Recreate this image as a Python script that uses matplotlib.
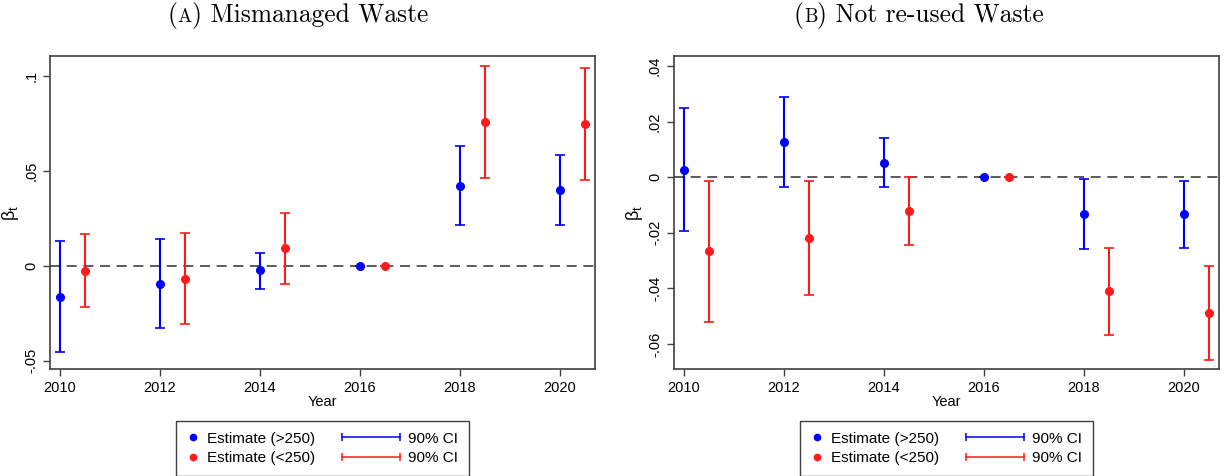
import numpy as np
import matplotlib
matplotlib.use("Agg")
import matplotlib.pyplot as plt
from matplotlib.lines import Line2D
from matplotlib.legend_handler import HandlerBase
from matplotlib.offsetbox import TextArea, HPacker, AnchoredOffsetbox

# years for the two groups (small group shifted by half a year)
years = np.array([2010, 2012, 2014, 2016, 2018, 2020])
offset = 0.5

# (A) Mismanaged Waste
a_big = np.array([-0.0163, -0.0095, -0.0023, 0.0, 0.0421, 0.0398])
a_big_lo = np.array([-0.0453, -0.0330, -0.0123, 0.0, 0.0214, 0.0214])
a_big_hi = np.array([0.0130, 0.0142, 0.0067, 0.0, 0.0628, 0.0584])
a_small = np.array([-0.0028, -0.0070, 0.0093, 0.0, 0.0756, 0.0744])
a_small_lo = np.array([-0.0219, -0.0309, -0.0096, 0.0, 0.0461, 0.0449])
a_small_hi = np.array([0.0168, 0.0170, 0.0277, 0.0, 0.1053, 0.1042])

# (B) Not re-used Waste
b_big = np.array([0.0026, 0.0126, 0.0051, 0.0, -0.0134, -0.0134])
b_big_lo = np.array([-0.0195, -0.0037, -0.0035, 0.0, -0.0259, -0.0255])
b_big_hi = np.array([0.0248, 0.0290, 0.0141, 0.0, -0.0008, -0.0013])
b_small = np.array([-0.0267, -0.0218, -0.0121, 0.0, -0.0411, -0.0490])
b_small_lo = np.array([-0.0521, -0.0423, -0.0243, 0.0, -0.0566, -0.0657])
b_small_hi = np.array([-0.0012, -0.0013, 0.0001, 0.0, -0.0255, -0.0321])

a_yticks = [-0.05, 0, 0.05, 0.1]
a_yticklabels = ["-.05", "0", ".05", ".1"]
b_yticks = [-0.06, -0.04, -0.02, 0, 0.02, 0.04]
b_yticklabels = ["-.06", "-.04", "-.02", "0", ".02", ".04"]
xticks = [2010, 2012, 2014, 2016, 2018, 2020]

BLUE = "#0000ff"
RED = "#ff1a1a"
FRAME = "#404040"

plt.rcParams["font.family"] = ["Liberation Sans", "DejaVu Sans"]


class CIHandler(HandlerBase):
    """Horizontal CI bar with end caps, drawn wider than the handle box."""

    def __init__(self, extra=33, **kw):
        super().__init__(**kw)
        self.extra = extra

    def create_artists(self, legend, orig_handle, xdescent, ydescent,
                       width, height, fontsize, trans):
        y = height / 2 - ydescent
        x0 = -xdescent - self.extra
        x1 = -xdescent + width
        c = orig_handle.get_color()
        line = Line2D([x0, x1], [y, y], color=c, lw=1.1, transform=trans)
        caps = Line2D([x0, x1], [y, y], ls="none", marker="|", ms=6,
                      mew=1.1, color=c, transform=trans)
        return [line, caps]


def panel(ax, big, big_lo, big_hi, small, small_lo, small_hi,
          yticks, yticklabels, ylim):
    ax.axhline(0, color="#404040", lw=1.2, ls=(0, (6, 4)), zorder=1)
    ax.errorbar(years, big, yerr=[big - big_lo, big_hi - big], fmt="o",
                color=BLUE, ms=5.5, elinewidth=1.5, capsize=3.5, capthick=1.2,
                zorder=3)
    ax.errorbar(years + offset, small, yerr=[small - small_lo, small_hi - small],
                fmt="o", color=RED, ms=5.5, elinewidth=1.5, capsize=3.5,
                capthick=1.2, zorder=3)
    ax.set_xlim(2009.8, 2020.7)
    ax.set_ylim(*ylim)
    ax.set_xticks(xticks)
    ax.set_yticks(yticks)
    ax.set_yticklabels(yticklabels, rotation=90, va="center")
    ax.tick_params(labelsize=10.5, length=5, width=1, color=FRAME)
    for s in ax.spines.values():
        s.set_color(FRAME)
        s.set_linewidth(1.2)
    ax.set_xlabel("Year", fontsize=10.5, labelpad=0)
    ax.set_ylabel(r"β$_\mathregular{t}$", fontsize=13, labelpad=2)


def title(fig, x, letter, text):
    # "(A) Title" with the panel letter in small caps
    props = dict(family="cmr10", size=18.3)
    parts = [TextArea("(", textprops=props),
             TextArea(letter, textprops=dict(family="cmr10", size=13.7)),
             TextArea(") " + text, textprops=props)]
    box = HPacker(children=parts, align="baseline", pad=0, sep=0)
    anchored = AnchoredOffsetbox(loc="center", child=box, pad=0, frameon=False,
                                 bbox_to_anchor=(x, 0.968),
                                 bbox_transform=fig.transFigure)
    fig.add_artist(anchored)


fig = plt.figure(figsize=(12.25, 4.76), dpi=100)
ax1 = fig.add_axes([0.0408, 0.2248, 0.4449, 0.6576])
ax2 = fig.add_axes([0.5500, 0.2248, 0.4449, 0.6576])

panel(ax1, a_big, a_big_lo, a_big_hi, a_small, a_small_lo, a_small_hi,
      a_yticks, a_yticklabels, (-0.0544, 0.1104))
panel(ax2, b_big, b_big_lo, b_big_hi, b_small, b_small_lo, b_small_hi,
      b_yticks, b_yticklabels, (-0.069, 0.0436))

title(fig, 298 / 1225, "A", "Mismanaged Waste")
title(fig, 919 / 1225, "B", "Not re-used Waste")

for ax in (ax1, ax2):
    dot_big = Line2D([], [], ls="none", marker="o", ms=4.5, color=BLUE)
    dot_small = Line2D([], [], ls="none", marker="o", ms=4.5, color=RED)
    ci_big = Line2D([], [], color=BLUE)
    ci_small = Line2D([], [], color=RED)
    pos = ax.get_position()
    fig.legend([dot_big, dot_small, ci_big, ci_small],
               ["Estimate (>250)", "Estimate (<250)", "90% CI", "90% CI"],
               ncol=2, loc="upper center",
               bbox_to_anchor=((pos.x0 + pos.x1) / 2, 1 - 421 / 476),
               fontsize=11, handlelength=0.8, handletextpad=0.5,
               columnspacing=4.8, labelspacing=0.35, borderpad=0.7,
               borderaxespad=0, fancybox=False, framealpha=1, edgecolor=FRAME,
               handler_map={ci_big: CIHandler(), ci_small: CIHandler()})

fig.savefig("out.png", dpi=100)
